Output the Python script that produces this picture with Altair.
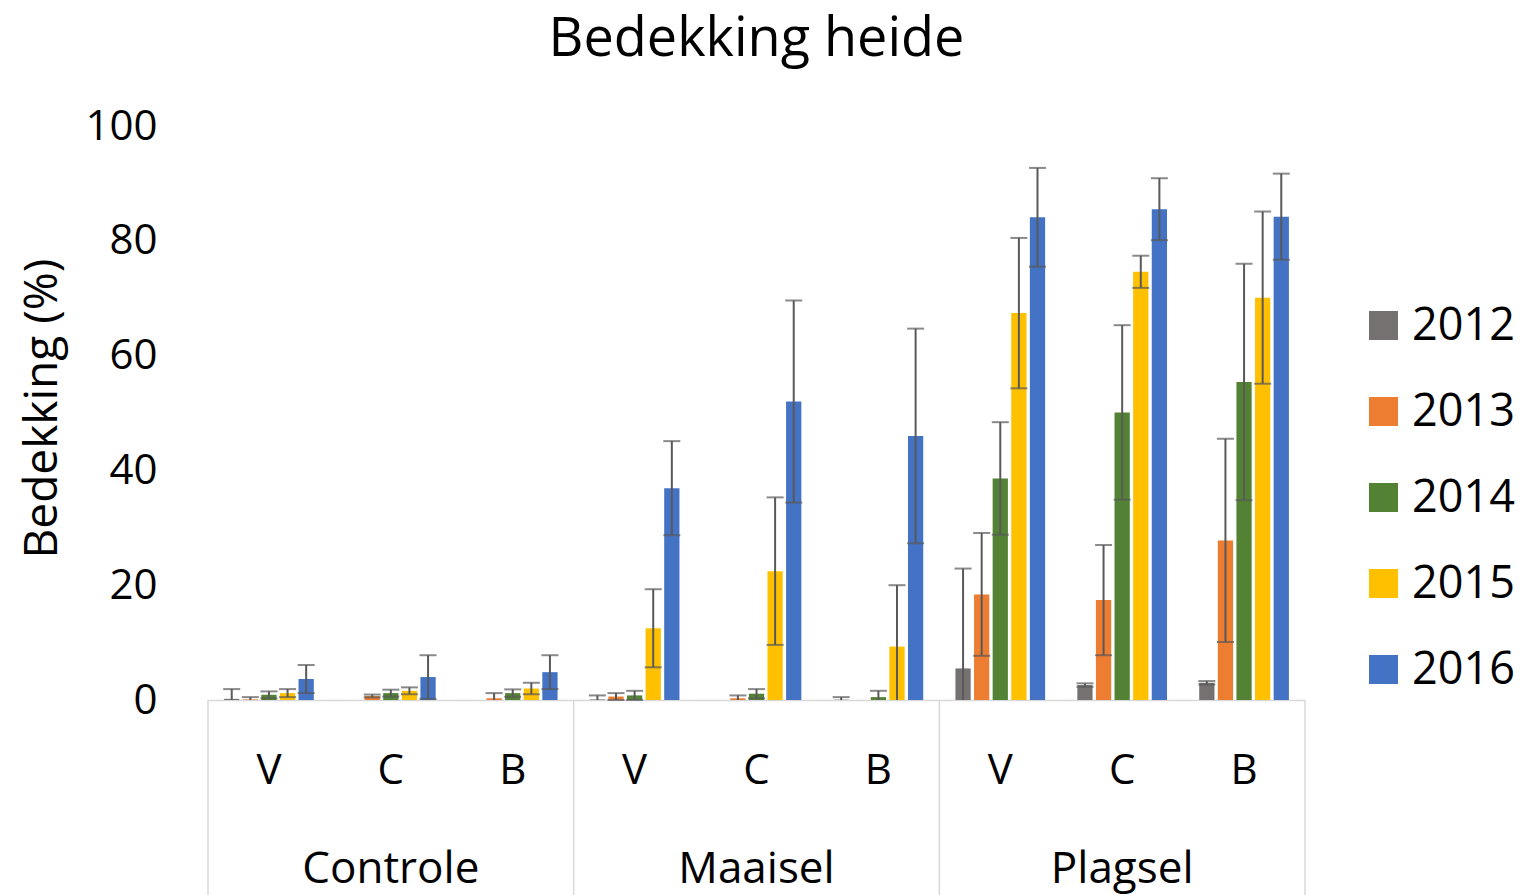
import altair as alt
import pandas as pd

groups = ["Controle", "Maaisel", "Plagsel"]
subs = ["V", "C", "B"]
years = ["2012", "2013", "2014", "2015", "2016"]
colors = ["#767171", "#ED7D31", "#548235", "#FFC000", "#4472C4"]

# order of values: Controle V, C, B | Maaisel V, C, B | Plagsel V, C, B
mean_2012 = [0.2, 0.0, 0.0, 0.1, 0.0, 0.05, 5.5, 2.6, 3.0]
err_2012 = [1.7, 0.0, 0.0, 0.7, 0.0, 0.45, 17.4, 0.3, 0.3]
mean_2013 = [0.1, 0.7, 0.3, 0.6, 0.3, 0.0, 18.4, 17.4, 27.8]
err_2013 = [0.4, 0.25, 0.9, 0.6, 0.5, 0.0, 10.7, 9.6, 17.7]
mean_2014 = [0.9, 1.2, 1.2, 0.8, 1.1, 0.5, 38.6, 50.1, 55.4]
err_2014 = [0.6, 0.6, 0.65, 0.8, 0.8, 1.1, 9.8, 15.2, 20.6]
mean_2015 = [1.2, 1.6, 2.0, 12.5, 22.45, 9.3, 67.4, 74.6, 70.1]
err_2015 = [0.7, 0.6, 1.0, 6.8, 12.85, 10.7, 13.1, 2.8, 15.0]
mean_2016 = [3.65, 4.0, 4.85, 36.9, 52.0, 46.0, 84.1, 85.5, 84.2]
err_2016 = [2.45, 3.8, 2.95, 8.2, 17.6, 18.7, 8.6, 5.4, 7.5]

means = [mean_2012, mean_2013, mean_2014, mean_2015, mean_2016]
errs = [err_2012, err_2013, err_2014, err_2015, err_2016]

cats = [f"{g}|{s}" for g in groups for s in subs]

rows = []
for yi, yr in enumerate(years):
    for ci, c in enumerate(cats):
        m = means[yi][ci]
        e = errs[yi][ci]
        rows.append({
            "cat": c, "year": yr, "mean": m, "err": e,
            "lo": max(0.0, m - e), "hi": m + e,
            "lowcap": (m - e) >= 0,
        })
df = pd.DataFrame(rows)
err_df = df[df["err"] > 0]
low_df = err_df[err_df["lowcap"]]

FONT = "Open Sans"
W, H = 1097, 574
ECOL = "#595959"
LINE = "#d9d9d9"

xscale = alt.Scale(domain=cats, paddingInner=0, paddingOuter=0)
xaxis = alt.Axis(
    title=None, labelExpr="split(datum.label, '|')[1]", labelAngle=0,
    labelFontSize=42, labelFont=FONT, labelColor="#000", labelBaseline="alphabetic",
    labelPadding=83, ticks=False, tickSize=0, domainColor=LINE, domainWidth=1.5,
)


def X(bp=None):
    if bp is None:
        return alt.X("cat:N", scale=xscale, axis=xaxis, sort=cats)
    return alt.X("cat:N", scale=xscale, axis=xaxis, sort=cats, bandPosition=bp)


xoff = alt.XOffset("year:N", scale=alt.Scale(domain=years, paddingInner=0.18, paddingOuter=0.865))

yenc = alt.Y(
    "mean:Q",
    scale=alt.Scale(domain=[0, 100], nice=False),
    axis=alt.Axis(
        values=[0, 20, 40, 60, 80, 100], grid=False, domain=False, ticks=False, tickSize=0,
        labelFontSize=42, labelFont=FONT, labelColor="#000", labelPadding=51,
        title="Bedekking (%)", titleFontSize=46, titleFont=FONT, titleFontWeight="normal",
        titleColor="#000", titleX=-166, titleY=282, titleAngle=-90,
        titleAlign="center", titleBaseline="middle",
    ),
)

bars = alt.Chart(df).mark_bar().encode(
    x=X(), xOffset=xoff, y=yenc,
    color=alt.Color(
        "year:N", scale=alt.Scale(domain=years, range=colors),
        legend=alt.Legend(
            title=None, orient="none", legendX=1153, legendY=177,
            symbolType="square", symbolSize=841, symbolStrokeWidth=0,
            labelFontSize=45, labelFont=FONT, labelColor="#000",
            labelOffset=6, rowPadding=40, padding=0,
        ),
    ),
)

rule = alt.Chart(err_df).mark_rule(color=ECOL, strokeWidth=2).encode(
    x=X(), xOffset=xoff, y=alt.Y("lo:Q"), y2="hi:Q"
)
topcap = alt.Chart(err_df).mark_tick(color=ECOL, thickness=2, size=17).encode(
    x=X(), xOffset=xoff, y=alt.Y("hi:Q")
)
lowcap = alt.Chart(low_df).mark_tick(color=ECOL, thickness=2, size=17).encode(
    x=X(), xOffset=xoff, y=alt.Y("lo:Q")
)

sep_left = alt.Chart(pd.DataFrame({"cat": [f"{g}|V" for g in groups]})).mark_rule(
    color=LINE, strokeWidth=1.5
).encode(x=X(0), y=alt.value(H), y2=alt.value(H + 230))
sep_right = alt.Chart(pd.DataFrame({"cat": [f"{groups[-1]}|B"]})).mark_rule(
    color=LINE, strokeWidth=1.5
).encode(x=X(1), y=alt.value(H), y2=alt.value(H + 230))

glabels = alt.Chart(pd.DataFrame({"cat": [f"{g}|C" for g in groups], "label": groups})).mark_text(
    font=FONT, fontSize=44, color="#000", baseline="alphabetic", align="center"
).encode(x=X(), y=alt.value(757), text="label:N")

chart = alt.layer(bars, rule, topcap, lowcap, sep_left, sep_right, glabels).properties(
    width=W, height=H,
    title=alt.TitleParams(
        "Bedekking heide", fontSize=54, font=FONT, fontWeight="normal", color="#000",
        anchor="middle", offset=38,
    ),
    autosize=alt.AutoSizeParams(type="none"),
    padding={"left": 200, "top": 118, "right": 215, "bottom": 195},
).configure(font=FONT).configure_view(stroke=None)

chart.save("out.html", embed_options={"renderer": "svg", "actions": False})
